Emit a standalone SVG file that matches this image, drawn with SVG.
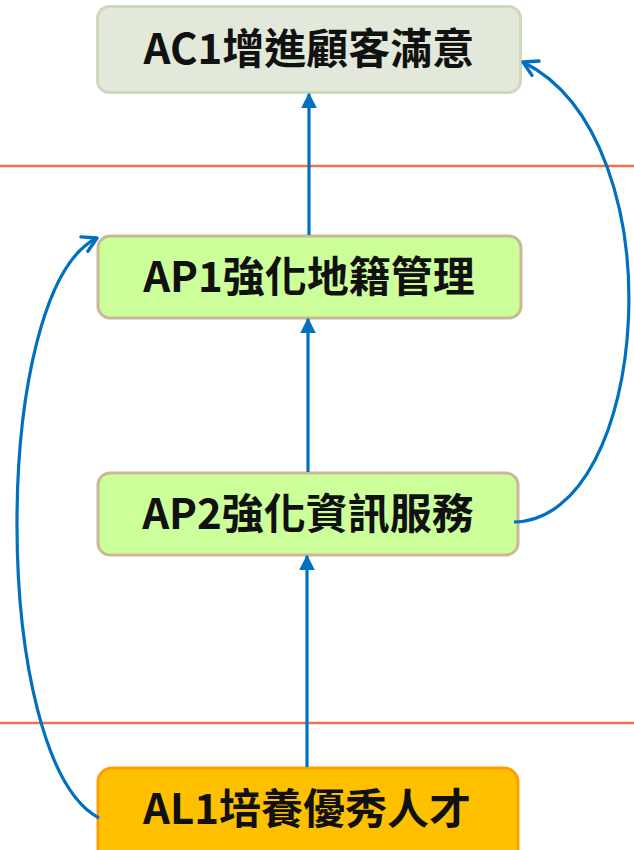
<svg xmlns="http://www.w3.org/2000/svg" width="634" height="850" viewBox="0 0 634 850">
<style>
.box{stroke-width:3}
.lbl{font-family:"Noto Sans CJK TC","Noto Sans",sans-serif;font-weight:bold;font-size:42px;fill:#111;text-anchor:middle}
.sep{stroke:#f07050;stroke-width:2.5}
.conn{fill:none;stroke:#0070c0;stroke-width:3.2}
</style>
<defs>
<marker id="tri" viewBox="0 0 10 10" refX="9" refY="5" markerWidth="5" markerHeight="5" orient="auto" markerUnits="strokeWidth">
<path d="M0,0 L10,5 L0,10 Z" fill="#0070c0"/>
</marker>
<marker id="vee" viewBox="0 0 20 20" refX="18" refY="10" markerWidth="20" markerHeight="20" orient="auto" markerUnits="userSpaceOnUse">
<path d="M4,2 L18,10 L4,18" fill="none" stroke="#0070c0" stroke-width="3.4" stroke-linecap="round" stroke-linejoin="round"/>
</marker>
</defs>
<line class="sep" x1="0" y1="166" x2="634" y2="166"/>
<line class="sep" x1="0" y1="723" x2="634" y2="723"/>
<g id="AC1">
<rect class="box" x="97.5" y="6.5" width="423" height="86" rx="12" fill="#e3e9da" stroke="#cfd8bd"/>
<text class="lbl" x="309" y="64">AC1增進顧客滿意</text>
</g>
<g id="AP1">
<rect class="box" x="98" y="236" width="423" height="82" rx="12" fill="#ccff99" stroke="#c9b996"/>
<text class="lbl" x="309" y="292">AP1強化地籍管理</text>
</g>
<g id="AP2">
<rect class="box" x="98" y="473" width="420" height="82" rx="12" fill="#ccff99" stroke="#c9b996"/>
<text class="lbl" x="308" y="529">AP2強化資訊服務</text>
</g>
<g id="AL1">
<rect class="box" x="98" y="768" width="420" height="100" rx="14" fill="#ffc000" stroke="#ff9e00"/>
<text class="lbl" x="307" y="824">AL1培養優秀人才</text>
</g>
<g id="connectors">
<line class="conn" x1="309" y1="235" x2="309" y2="94" marker-end="url(#tri)"/>
<line class="conn" x1="308" y1="472" x2="308" y2="319" marker-end="url(#tri)"/>
<line class="conn" x1="307" y1="767" x2="307" y2="556" marker-end="url(#tri)"/>
<path class="conn" d="M514 522 C650 520 680 140 523 62" marker-end="url(#vee)"/>
<path class="conn" d="M99 818 C-10 760 -10 290 97 238" marker-end="url(#vee)"/>
</g>
</svg>
